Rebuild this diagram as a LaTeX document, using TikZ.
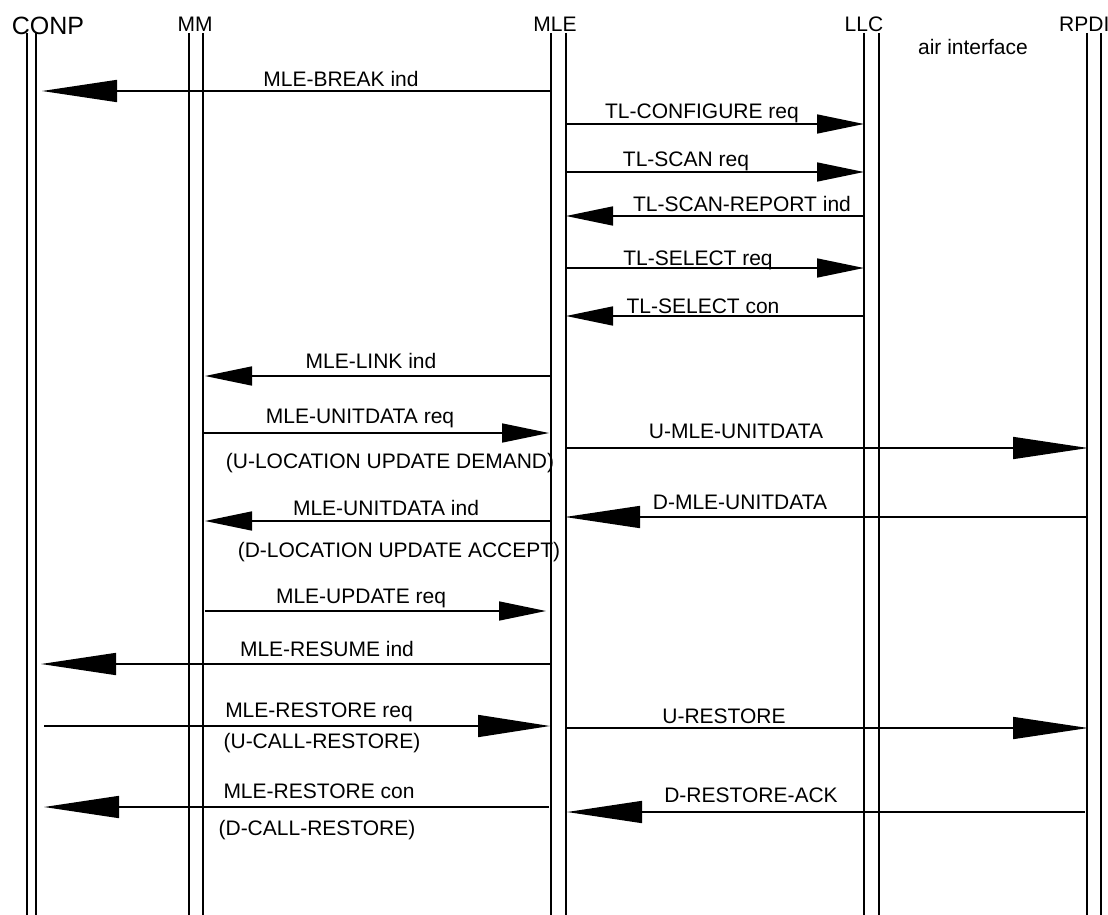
\documentclass[tikz,border=0pt]{standalone}
\usepackage{fontspec}
\setmainfont{Liberation Sans}
\usetikzlibrary{arrows.meta}
\tikzset{
  life/.style={line width=1.6pt},
  msg/.style={line width=1.6pt},
  shorthead/.style={-{Triangle[length=47pt,width=19pt]}},
  longhead/.style={-{Triangle[length=75pt,width=22pt]}},
  lbl/.style={anchor=base,inner sep=0pt,font=\fontsize{21}{24}\selectfont},
  hdr/.style={anchor=base,inner sep=0pt,font=\fontsize{21}{24}\selectfont},
}
\begin{document}
\begin{tikzpicture}[x=1pt,y=-1pt]
\useasboundingbox[fill=white] (0,0) rectangle (1108,915);
% headers
\node[hdr,font=\fontsize{25}{28}\selectfont] (conp) at (48,35) {CONP};
\node[hdr] (mm) at (195,32) {MM};
\node[hdr] (mle) at (555,32) {MLE};
\node[hdr] (llc) at (864,32) {LLC};
\node[hdr,anchor=base west] (rpdi) at (1059,32) {RPDI};
\node[hdr] (air) at (973,55) {air interface};
% lifelines
\foreach \n/\x in {conpA/27,conpB/36,mmA/189,mmB/203,mleA/551,mleB/566,llcA/864,llcB/879,rpdiA/1087,rpdiB/1101}{
  \coordinate (\n-t) at (\x,33);
  \coordinate (\n-b) at (\x,915);
  \draw[life] (\n-t) -- (\n-b);
}
% message end points
\coordinate (a1) at (550,91);   \coordinate (b1) at (42,91);
\coordinate (a2) at (567,124);  \coordinate (b2) at (864,124);
\coordinate (a3) at (567,172);  \coordinate (b3) at (864,172);
\coordinate (a4) at (864,216);  \coordinate (b4) at (566,216);
\coordinate (a5) at (567,268);  \coordinate (b5) at (864,268);
\coordinate (a6) at (864,316);  \coordinate (b6) at (566,316);
\coordinate (a7) at (550,376);  \coordinate (b7) at (205,376);
\coordinate (a8) at (204,433);  \coordinate (b8) at (549,433);
\coordinate (a9) at (567,448);  \coordinate (b9) at (1088,448);
\coordinate (a10) at (550,521); \coordinate (b10) at (205,521);
\coordinate (a11) at (1086,517);\coordinate (b11) at (565,517);
\coordinate (a12) at (205,611); \coordinate (b12) at (546,611);
\coordinate (a13) at (550,664); \coordinate (b13) at (41,664);
\coordinate (a14) at (44,726);  \coordinate (b14) at (550,726);
\coordinate (a15) at (567,728); \coordinate (b15) at (1088,728);
\coordinate (a16) at (549,807); \coordinate (b16) at (44,807);
\coordinate (a17) at (1085,812);\coordinate (b17) at (567,812);
% messages
\draw[msg,longhead] (a1) -- (b1);
\draw[msg,shorthead] (a2) -- (b2);
\draw[msg,shorthead] (a3) -- (b3);
\draw[msg,shorthead] (a4) -- (b4);
\draw[msg,shorthead] (a5) -- (b5);
\draw[msg,shorthead] (a6) -- (b6);
\draw[msg,shorthead] (a7) -- (b7);
\draw[msg,shorthead] (a8) -- (b8);
\draw[msg,longhead] (a9) -- (b9);
\draw[msg,shorthead] (a10) -- (b10);
\draw[msg,longhead] (a11) -- (b11);
\draw[msg,shorthead] (a12) -- (b12);
\draw[msg,longhead] (a13) -- (b13);
\draw[msg,-{Triangle[length=72pt,width=22pt]}] (a14) -- (b14);
\draw[msg,longhead] (a15) -- (b15);
\draw[msg,longhead] (a16) -- (b16);
\draw[msg,longhead] (a17) -- (b17);
% labels
\node[lbl] (l1) at (341,87) {MLE-BREAK ind};
\node[lbl] (l2) at (702,119) {TL-CONFIGURE req};
\node[lbl] (l3) at (686,167) {TL-SCAN req};
\node[lbl] (l4) at (742,211) {TL-SCAN-REPORT ind};
\node[lbl] (l5) at (698,265) {TL-SELECT req};
\node[lbl] (l6) at (703,313) {TL-SELECT con};
\node[lbl] (l7) at (371,368) {MLE-LINK ind};
\node[lbl] (l8) at (360,423) {MLE-UNITDATA req};
\node[lbl] (s8) at (390,468) {(U-LOCATION UPDATE DEMAND)};
\node[lbl] (l9) at (736,438) {U-MLE-UNITDATA};
\node[lbl] (l10) at (386,515) {MLE-UNITDATA ind};
\node[lbl] (s10) at (399,557) {(D-LOCATION UPDATE ACCEPT)};
\node[lbl] (l11) at (740,509) {D-MLE-UNITDATA};
\node[lbl] (l12) at (361,603) {MLE-UPDATE req};
\node[lbl] (l13) at (327,656) {MLE-RESUME ind};
\node[lbl] (l14) at (319,717) {MLE-RESTORE req};
\node[lbl] (s14) at (322,748) {(U-CALL-RESTORE)};
\node[lbl] (l15) at (724,723) {U-RESTORE};
\node[lbl] (l16) at (319,798) {MLE-RESTORE con};
\node[lbl] (s16) at (317,835) {(D-CALL-RESTORE)};
\node[lbl] (l17) at (751,802) {D-RESTORE-ACK};
\end{tikzpicture}
\end{document}
